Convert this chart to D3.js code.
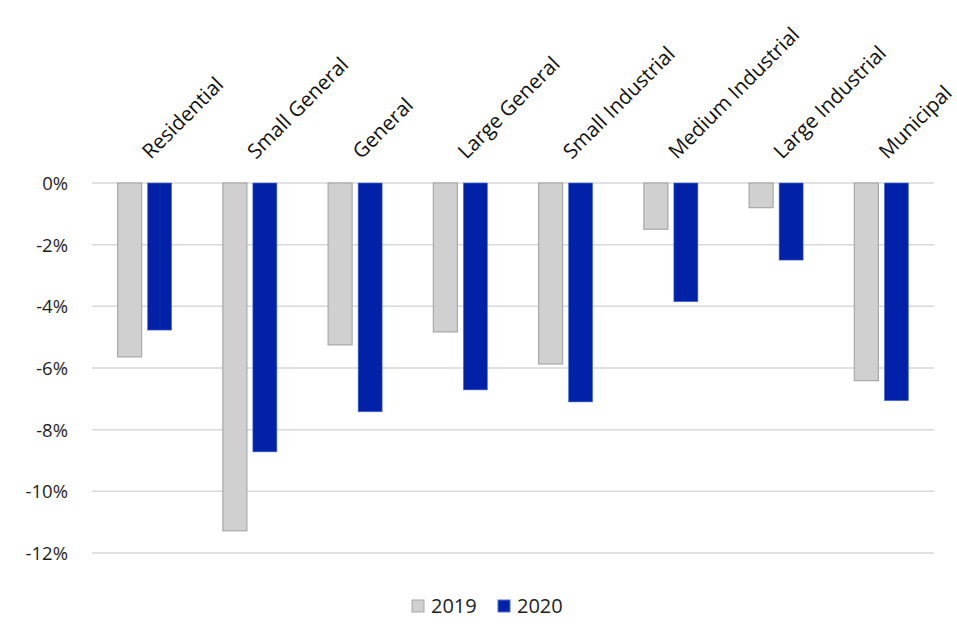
<!DOCTYPE html>
<html><head><meta charset="utf-8">
<script src="https://cdn.jsdelivr.net/npm/d3@7"></script>
<style>body{margin:0;background:#fff;} svg{display:block;}</style>
</head><body>
<svg id="chart" width="957" height="624"></svg>
<script>
const categories = ["Residential","Small General","General","Large General","Small Industrial","Medium Industrial","Large Industrial","Municipal"];
const series = ["2019","2020"];
const values2019 = [-5.64,-11.28,-5.25,-4.83,-5.87,-1.50,-0.80,-6.41];
const values2020 = [-4.77,-8.72,-7.42,-6.71,-7.10,-3.85,-2.50,-7.06];
const yTicks = [0,-2,-4,-6,-8,-10,-12];

const fills = {"2019":"#d0d0d0","2020":"#0021a8"};
const strokes = {"2019":"#a8a8a8","2020":"#5070d8"};
const font = "'Open Sans', Lato, sans-serif";

const svg = d3.select("#chart");
const pLeft = 92, pRight = 934, pTop = 183, pBottom = 553;

const x = d3.scaleBand().domain(categories).range([pLeft,pRight]).paddingInner(0).paddingOuter(0);
const y = d3.scaleLinear().domain([0,-12]).range([pTop,pBottom]);

// gridlines
svg.append("g").selectAll("line").data(yTicks).join("line")
  .attr("x1",pLeft).attr("x2",pRight)
  .attr("y1",d=>y(d)).attr("y2",d=>y(d))
  .attr("stroke","#d9d9d9").attr("stroke-width",1.5);

// y axis labels via d3 axis
const yAxis = d3.axisLeft(y).tickValues(yTicks).tickSize(0).tickPadding(0).tickFormat(d=>d+"%");
const gy = svg.append("g").attr("transform",`translate(${pLeft-24},0)`).call(yAxis);
gy.select(".domain").remove();
gy.selectAll("text").attr("font-family",font).attr("font-size",18.5).attr("fill","#1e1e1e").attr("dy","0.35em");

// bars
const barW = 24, gap = 6;
const data = [];
categories.forEach((c,i)=>{
  data.push({c, s:"2019", v:values2019[i], off:-gap/2-barW});
  data.push({c, s:"2020", v:values2020[i], off:gap/2});
});
svg.append("g").selectAll("rect").data(data).join("rect")
  .attr("x",d=>x(d.c)+x.bandwidth()/2+d.off)
  .attr("y",y(0))
  .attr("width",barW)
  .attr("height",d=>y(d.v)-y(0))
  .attr("fill",d=>fills[d.s])
  .attr("stroke",d=>strokes[d.s])
  .attr("stroke-width",d=>d.s==="2019"?1.2:0.6);

// category labels (rotated)
svg.append("g").selectAll("text").data(categories).join("text")
  .attr("transform",d=>`translate(${x(d)+x.bandwidth()/2+6},${pTop-23}) rotate(-45)`)
  .attr("text-anchor","start")
  .attr("font-family",font).attr("font-size",20.5).attr("fill","#111")
  .text(d=>d);

// legend
const legend = svg.append("g").attr("transform","translate(412,606)");
const items = [{s:"2019",x:0},{s:"2020",x:86}];
items.forEach(it=>{
  legend.append("rect").attr("x",it.x).attr("y",-6).attr("width",12).attr("height",12)
    .attr("fill",fills[it.s]).attr("stroke",strokes[it.s]).attr("stroke-width",1);
  legend.append("text").attr("x",it.x+19).attr("y",0).attr("dy","0.35em")
    .attr("font-family",font).attr("font-size",20).attr("fill","#1e1e1e").text(it.s);
});
</script>
</body></html>
